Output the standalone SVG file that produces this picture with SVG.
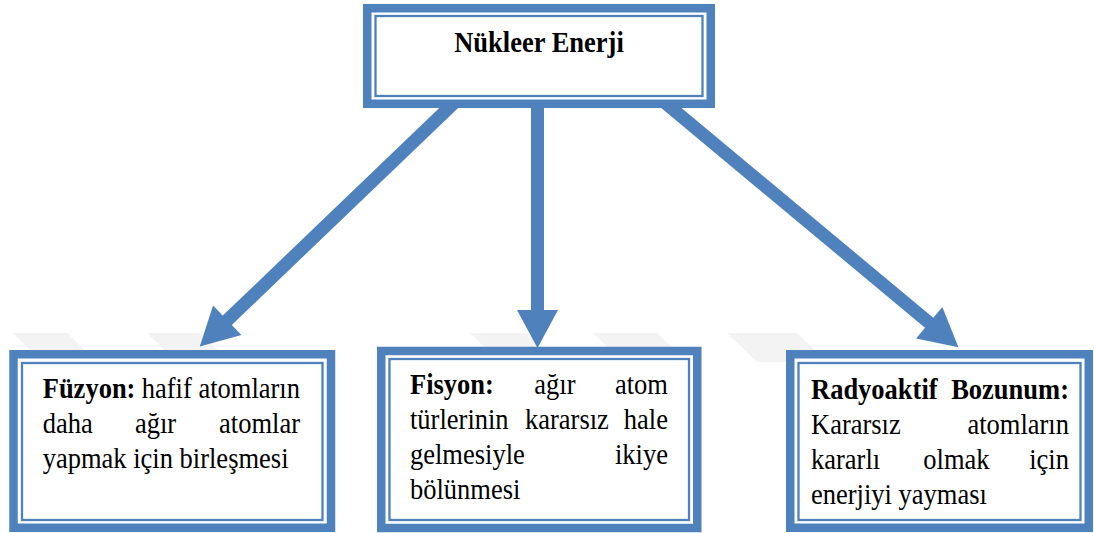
<svg xmlns="http://www.w3.org/2000/svg" width="1094" height="533" viewBox="0 0 1094 533">
<style>
  .outer { fill: #ffffff; stroke: #4f81bd; stroke-width: 8.5; }
  .inner { fill: none; stroke: #4f81bd; stroke-width: 2.3; }
  .t { font-family: "Liberation Serif", "Times New Roman", serif; font-size: 28.5px; fill: #000000; }
  .b { font-weight: bold; }
  .shaft { stroke: #4f81bd; stroke-width: 13; fill: none; marker-end: url(#head); }
  .wm { fill: #f3f3f3; }
</style>
<defs>
  <marker id="head" markerUnits="userSpaceOnUse" markerWidth="40" markerHeight="41" refX="1" refY="20.5" orient="auto" overflow="visible">
    <path d="M0,0 L38,20.5 L0,41 Z" fill="#4f81bd"/>
  </marker>
</defs>
<rect width="1094" height="533" fill="#ffffff"/>
<g id="watermark">
  <polygon class="wm" points="13,333 67,333 97,362 43,362"/>
  <polygon class="wm" points="147,333 200,333 230,362 177,362"/>
  <polygon class="wm" points="470,333 527,333 557,362 500,362"/>
  <polygon class="wm" points="593,333 657,333 687,362 623,362"/>
  <polygon class="wm" points="727,333 797,333 827,362 757,362"/>
</g>
<g id="connectors">
  <line class="shaft" x1="456" y1="101" x2="226.5" y2="321"/>
  <line class="shaft" x1="537.5" y1="100" x2="537.5" y2="311"/>
  <line class="shaft" x1="663" y1="101" x2="930" y2="323.5"/>
</g>
<g id="nukleer-enerji">
  <rect class="outer" x="367.25" y="8.25" width="343.5" height="95.5"/>
  <rect class="inner" x="375.5" y="16" width="327" height="80"/>
  <g transform="scale(0.93,1)">
    <text class="t b" x="579.57" y="52" text-anchor="middle">Nükleer Enerji</text>
  </g>
</g>
<g id="fuzyon">
  <rect class="outer" x="13.5" y="354.25" width="317.5" height="173.5"/>
  <rect class="inner" x="22" y="363" width="300.5" height="157"/>
  <g transform="scale(0.93,1)">
    <text class="t" y="398"><tspan class="b" x="45.91">Füzyon:</tspan><tspan x="152.37">hafif</tspan></text>
    <text class="t" x="322.58" y="398" text-anchor="end">atomların</text>
    <text class="t" y="433"><tspan x="45.91">daha</tspan><tspan x="145.16">ağır</tspan></text>
    <text class="t" x="322.58" y="433" text-anchor="end">atomlar</text>
    <text class="t" x="45.91" y="468">yapmak için birleşmesi</text>
  </g>
</g>
<g id="fisyon">
  <rect class="outer" x="381.25" y="351" width="316" height="177"/>
  <rect class="inner" x="389.5" y="359" width="299.5" height="161"/>
  <g transform="scale(0.93,1)">
    <text class="t" y="394"><tspan class="b" x="440.86">Fisyon:</tspan><tspan x="574.52">ağır</tspan></text>
    <text class="t" x="718.28" y="394" text-anchor="end">atom</text>
    <text class="t" y="429"><tspan x="440.86">türlerinin</tspan><tspan x="564.52">kararsız</tspan></text>
    <text class="t" x="718.28" y="429" text-anchor="end">hale</text>
    <text class="t" x="440.86" y="464">gelmesiyle</text>
    <text class="t" x="718.28" y="464" text-anchor="end">ikiye</text>
    <text class="t" x="440.86" y="499">bölünmesi</text>
  </g>
</g>
<g id="radyoaktif-bozunum">
  <rect class="outer" x="790.25" y="354.25" width="298.5" height="173.5"/>
  <rect class="inner" x="798.5" y="363" width="282" height="157"/>
  <g transform="scale(0.93,1)">
    <text class="t b" x="872.04" y="399">Radyoaktif</text>
    <text class="t b" x="1149.46" y="399" text-anchor="end">Bozunum:</text>
    <text class="t" x="872.04" y="434">Kararsız</text>
    <text class="t" x="1149.46" y="434" text-anchor="end">atomların</text>
    <text class="t" y="469"><tspan x="872.04">kararlı</tspan><tspan x="992.8">olmak</tspan></text>
    <text class="t" x="1149.46" y="469" text-anchor="end">için</text>
    <text class="t" x="872.04" y="504">enerjiyi yayması</text>
  </g>
</g>
</svg>
